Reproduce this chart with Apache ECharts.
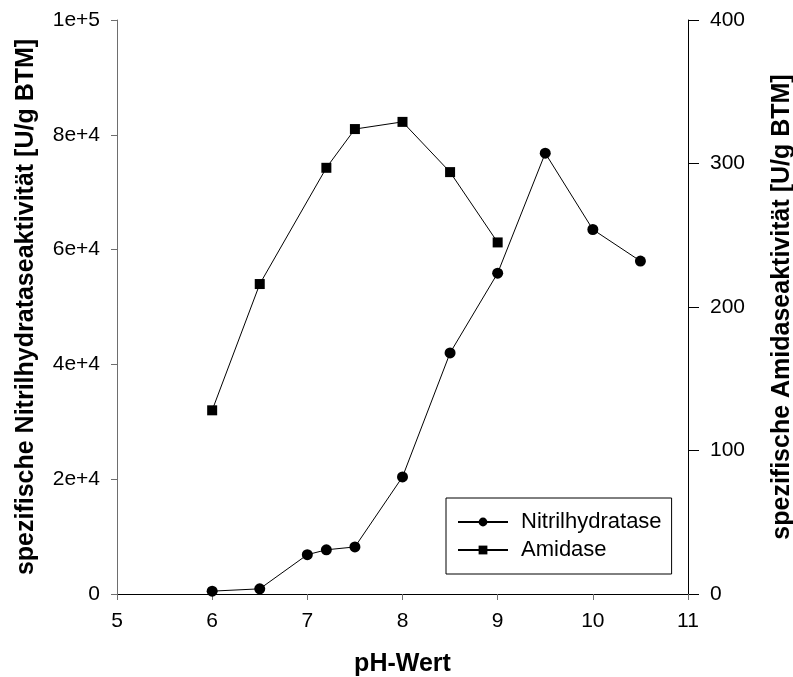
<!DOCTYPE html>
<html>
<head>
<meta charset="utf-8">
<script src="https://cdn.jsdelivr.net/npm/echarts@6/dist/echarts.min.js"></script>
<style>
  html, body { margin: 0; padding: 0; background: #fff; }
  #chart { width: 793px; height: 677px; }
</style>
</head>
<body>
<div id="chart"></div>
<script>
// pH-Werte und Aktivitäten
var phNitril = [6, 6.5, 7, 7.2, 7.5, 8, 8.5, 9, 9.5, 10, 10.5];
var nitrilValues = [500, 900, 6850, 7700, 8200, 20400, 42000, 55900, 76800, 63500, 58000];
var phAmid = [6, 6.5, 7.2, 7.5, 8, 8.5, 9];
var amidValues = [128, 216, 297, 324, 329, 294, 245];

var font = '"Liberation Sans", Arial, sans-serif';

function sciLabel(v) {
  if (v === 0) return '0';
  var exp = Math.floor(Math.log10(v));
  var m = Math.round(v / Math.pow(10, exp));
  return m + 'e+' + exp;
}

function pairs(xs, ys) {
  var out = [];
  for (var i = 0; i < xs.length; i++) out.push([xs[i], ys[i]]);
  return out;
}

var myChart = echarts.init(document.getElementById('chart'));
var option = {
  backgroundColor: '#fff',
  animation: false,
  grid: { left: 117, right: 105, top: 20, bottom: 83, outerBoundsMode: 'none', containLabel: false },
  legend: {
    orient: 'vertical',
    left: 446,
    top: 498,
    padding: [13, 10, 13, 11],
    itemGap: 6,
    itemWidth: 50,
    itemHeight: 11,
    borderColor: '#000',
    borderWidth: 1,
    textStyle: { fontFamily: font, fontSize: 22, color: '#000', padding: [0, 0, 0, 8] },
    data: ['Nitrilhydratase', 'Amidase']
  },
  xAxis: [{
    type: 'value',
    min: 5, max: 11, interval: 1,
    name: 'pH-Wert',
    nameLocation: 'middle',
    nameGap: 58,
    nameTextStyle: { fontFamily: font, fontSize: 25, fontWeight: 'bold', color: '#000' },
    axisLine: { lineStyle: { color: '#6e6e6e', width: 1 } },
    axisTick: { length: 6, lineStyle: { color: '#6e6e6e' } },
    axisLabel: { margin: 17, fontFamily: font, fontSize: 21, color: '#000' },
    splitLine: { show: false }
  }, {
    type: 'value',
    position: 'top',
    min: 5, max: 11,
    axisLine: { show: true, lineStyle: { color: '#000', width: 1 } },
    axisTick: { show: false },
    axisLabel: { show: false },
    splitLine: { show: false }
  }],
  yAxis: [{
    type: 'value',
    position: 'left',
    min: 0, max: 100000, interval: 20000,
    name: 'spezifische Nitrilhydrataseaktivität [U/g BTM]',
    nameLocation: 'middle',
    nameGap: 78,
    nameTextStyle: { fontFamily: font, fontSize: 25, fontWeight: 'bold', color: '#000' },
    axisLine: { show: true, lineStyle: { color: '#6e6e6e', width: 1 } },
    axisTick: { show: true, length: 6, lineStyle: { color: '#6e6e6e' } },
    axisLabel: { margin: 17, fontFamily: font, fontSize: 21, color: '#000', formatter: sciLabel },
    splitLine: { show: false }
  }, {
    type: 'value',
    position: 'right',
    min: 0, max: 400, interval: 100,
    name: 'spezifische Amidaseaktivität [U/g BTM]',
    nameLocation: 'middle',
    nameGap: 82,
    nameRotate: 90,
    nameTextStyle: { fontFamily: font, fontSize: 25, fontWeight: 'bold', color: '#000' },
    axisLine: { show: true, lineStyle: { color: '#000', width: 1 } },
    axisTick: { show: true, length: 11, lineStyle: { color: '#000' } },
    axisLabel: { margin: 22, fontFamily: font, fontSize: 21, color: '#000' },
    splitLine: { show: false }
  }],
  series: [{
    name: 'Nitrilhydratase',
    type: 'line',
    xAxisIndex: 0,
    yAxisIndex: 0,
    symbol: 'circle',
    symbolSize: 11,
    color: '#000',
    lineStyle: { color: '#000', width: 1 },
    itemStyle: { color: '#000' },
    data: pairs(phNitril, nitrilValues)
  }, {
    name: 'Amidase',
    type: 'line',
    xAxisIndex: 0,
    yAxisIndex: 1,
    symbol: 'rect',
    symbolSize: 10,
    color: '#000',
    lineStyle: { color: '#000', width: 1 },
    itemStyle: { color: '#000' },
    data: pairs(phAmid, amidValues)
  }]
};
myChart.setOption(option);
</script>
</body>
</html>
